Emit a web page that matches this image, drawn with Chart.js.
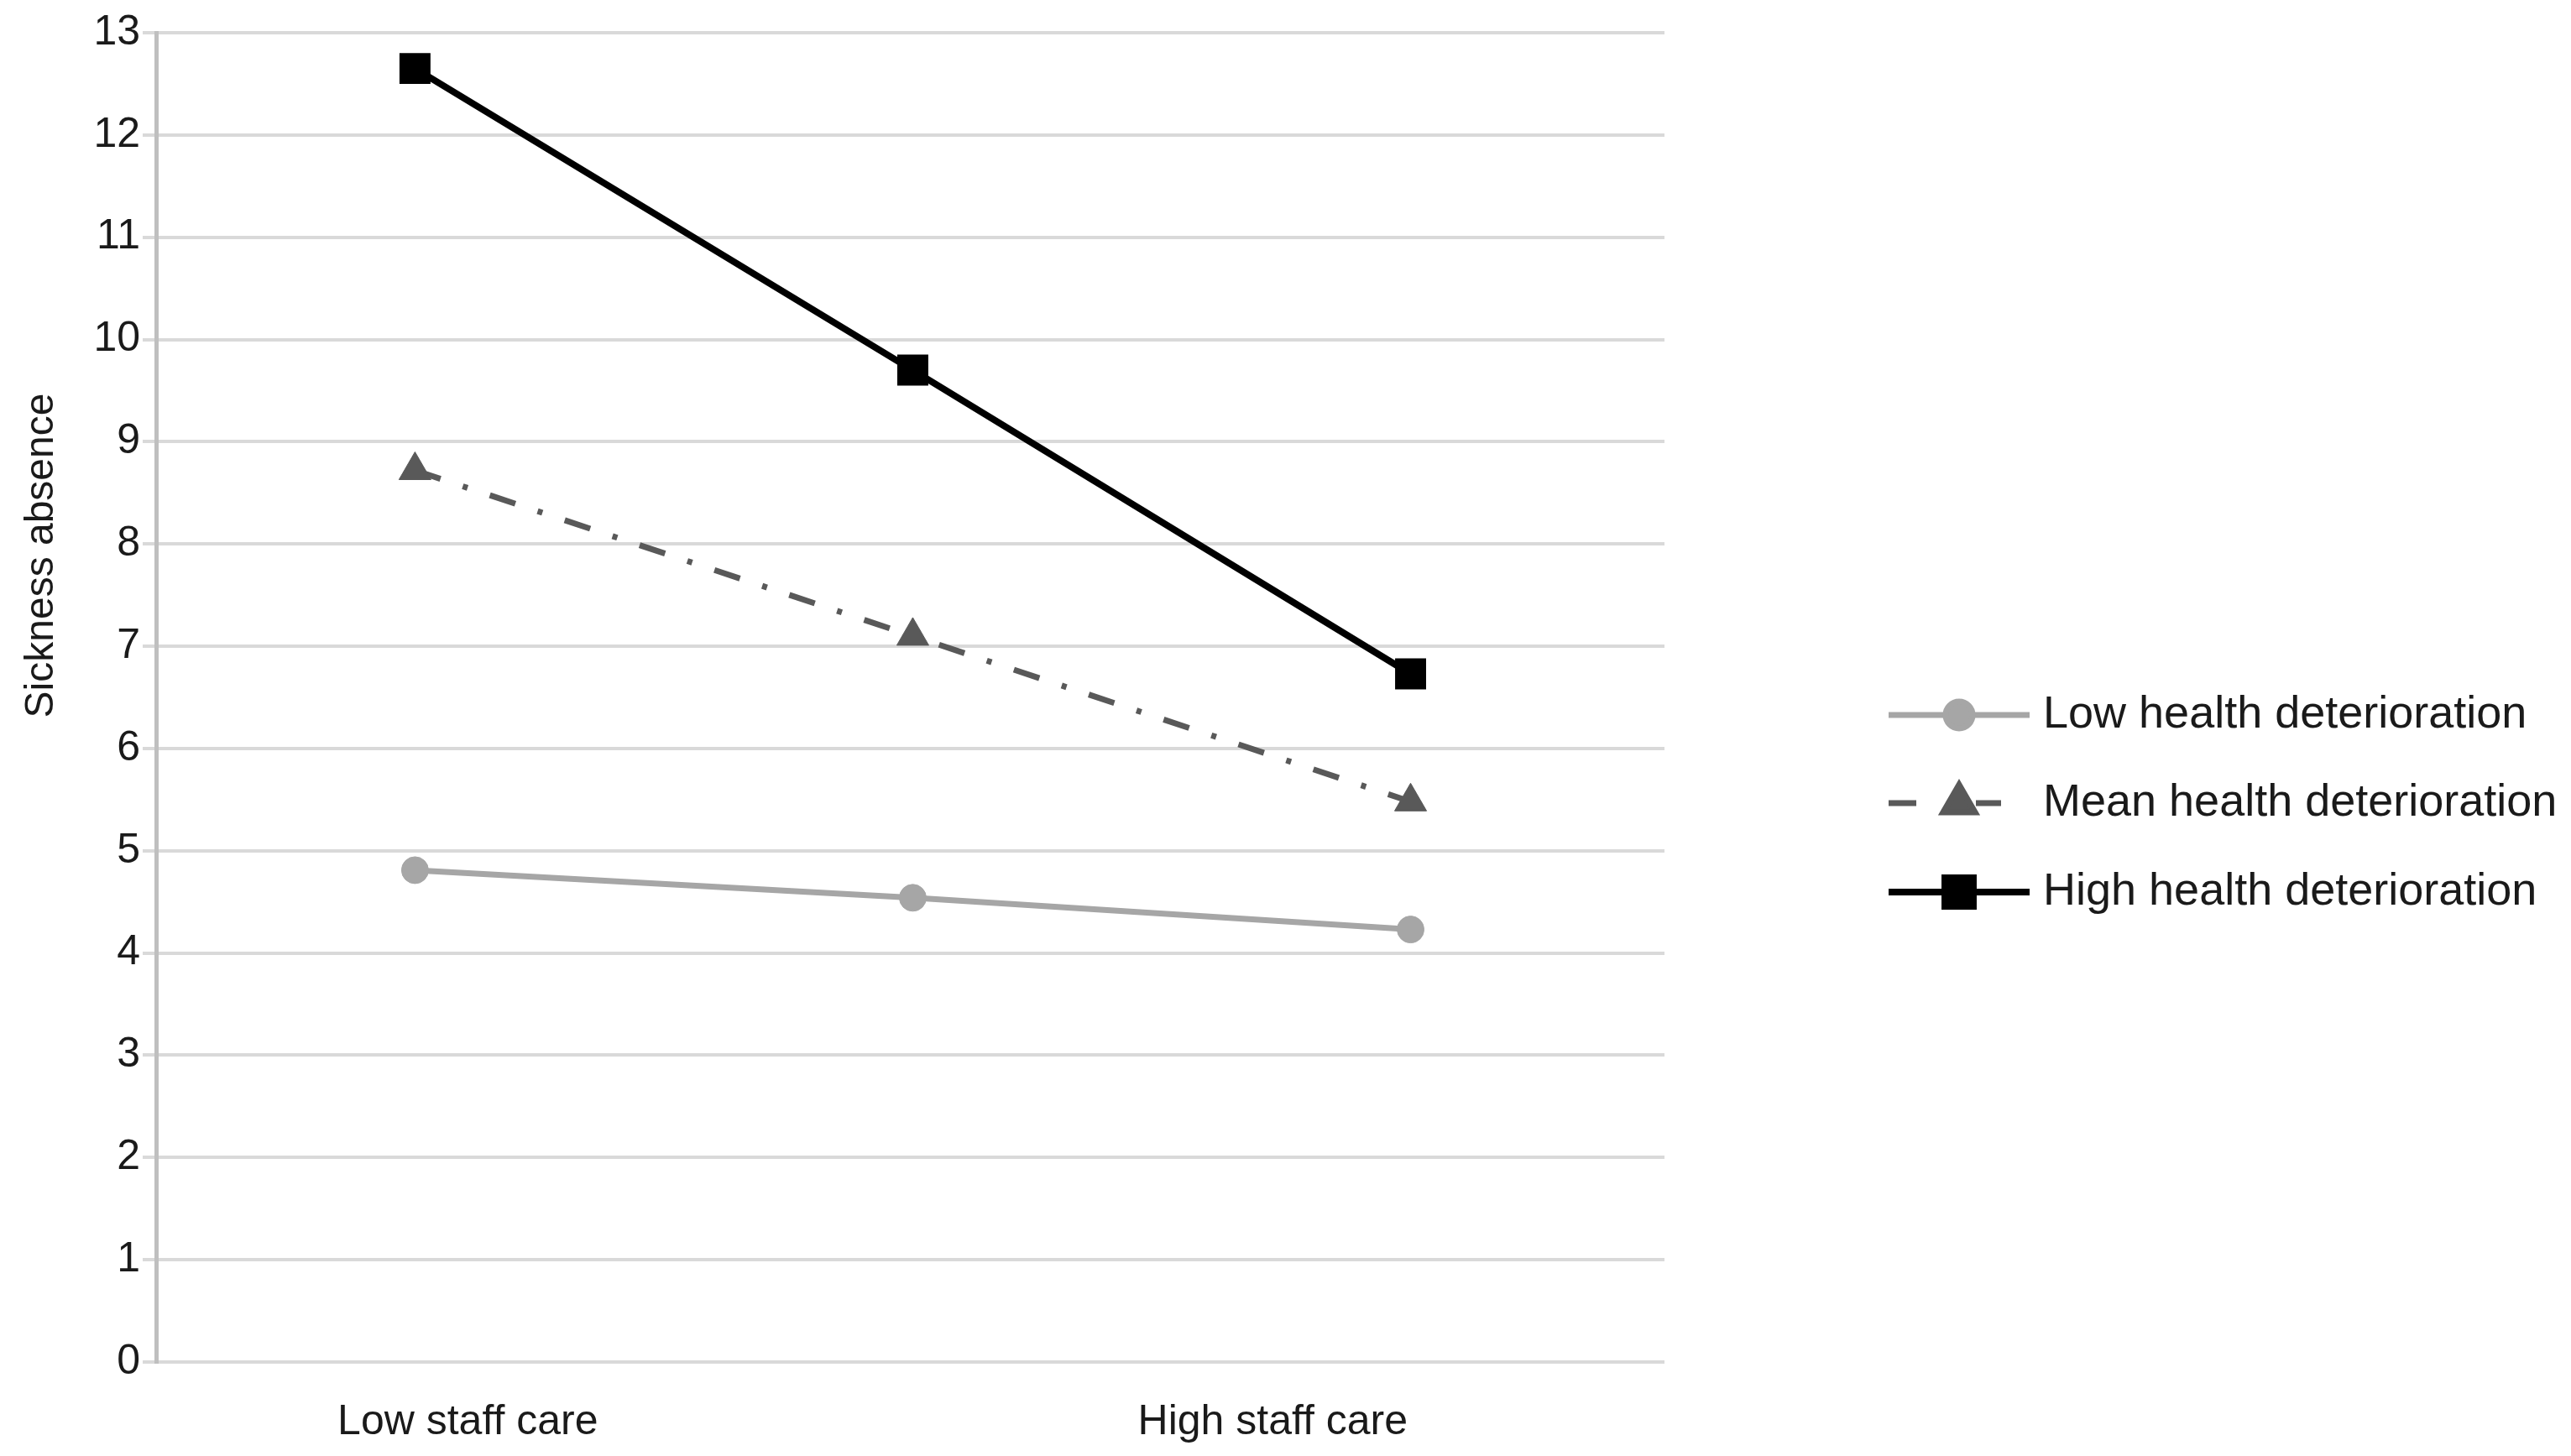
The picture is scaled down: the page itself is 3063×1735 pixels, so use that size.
<!DOCTYPE html>
<html>
<head>
<meta charset="utf-8">
<script src="https://cdn.jsdelivr.net/npm/chart.js@4.4.1/dist/chart.umd.min.js"></script>
<style>
  html, body { margin: 0; padding: 0; background: #fff; }
  #wrap { width: 3063px; height: 1735px; }
</style>
</head>
<body>
<div id="wrap"><canvas id="chart"></canvas></div>
<script>
// Staff care levels on x, sickness absence on y
const staffCare = [1, 2, 3];
const xLabelAt = [1.106, 2.723];
const xLabels = ['Low staff care', 'High staff care'];
const seriesNames = ['Low health deterioration', 'Mean health deterioration', 'High health deterioration'];
const lowHealth = [4.81, 4.54, 4.23];
const meanHealth = [8.72, 7.10, 5.48];
const highHealth = [12.65, 9.70, 6.73];
const yTickValues = [0, 1, 2, 3, 4, 5, 6, 7, 8, 9, 10, 11, 12, 13];
const yTitle = 'Sickness absence';

const FONT = "'Liberation Sans', Arial, sans-serif";
const TEXT = '#1a1a1a';

function pts(values) {
    return values.map((v, i) => ({ x: staffCare[i], y: v }));
}

// Legend drawn on the right with a line sample and marker per series
const sideLegend = {
    id: 'sideLegend',
    afterDraw(chart) {
        const ctx = chart.ctx;
        const x0 = 2250, lineLen = 168, textX = 2434;
        const rows = [852, 957, 1063];
        chart.data.datasets.forEach((ds, i) => {
            const y = rows[i];
            ctx.save();
            ctx.strokeStyle = ds.borderColor;
            ctx.lineWidth = ds.borderWidth;
            // the dashed series shows as "- ▲ -" in the legend sample
            ctx.setLineDash(ds.borderDash ? [33, 71, 30, 100] : []);
            ctx.beginPath();
            ctx.moveTo(x0, y);
            ctx.lineTo(x0 + lineLen, y);
            ctx.stroke();
            ctx.setLineDash([]);
            ctx.fillStyle = ds.pointBackgroundColor;
            ctx.strokeStyle = ds.pointBorderColor;
            Chart.helpers.drawPoint(ctx, {
                pointStyle: ds.pointStyle,
                radius: ds.pointRadius,
                borderWidth: ds.pointBorderWidth,
                rotation: 0
            }, x0 + lineLen / 2, y);
            ctx.fillStyle = TEXT;
            ctx.font = '54px ' + FONT;
            ctx.textBaseline = 'middle';
            ctx.textAlign = 'left';
            ctx.fillText(ds.label, textX, y);
            ctx.restore();
        });
    }
};

// Y axis title, placed as in the original figure
const yTitlePlugin = {
    id: 'yTitlePlugin',
    afterDraw(chart) {
        const ctx = chart.ctx;
        ctx.save();
        ctx.translate(50, 662);
        ctx.rotate(-Math.PI / 2);
        ctx.fillStyle = TEXT;
        ctx.font = '48px ' + FONT;
        ctx.textAlign = 'center';
        ctx.textBaseline = 'middle';
        ctx.fillText(yTitle, 0, 0);
        ctx.restore();
    }
};

new Chart(document.getElementById('chart'), {
    type: 'line',
    data: {
        datasets: [{
            label: seriesNames[0],
            data: pts(lowHealth),
            borderColor: '#a6a6a6',
            borderWidth: 7,
            pointStyle: 'circle',
            pointRadius: 16,
            pointBackgroundColor: '#a6a6a6',
            pointBorderColor: '#a6a6a6',
            pointBorderWidth: 1
        }, {
            label: seriesNames[1],
            data: pts(meanHealth),
            borderColor: '#595959',
            borderWidth: 7,
            borderDash: [32, 28, 6, 28],
            pointStyle: 'triangle',
            pointRadius: 22,
            pointBackgroundColor: '#595959',
            pointBorderColor: '#595959',
            pointBorderWidth: 1
        }, {
            label: seriesNames[2],
            data: pts(highHealth),
            borderColor: '#000000',
            borderWidth: 8,
            pointStyle: 'rect',
            pointRadius: 24,
            pointBackgroundColor: '#000000',
            pointBorderColor: '#000000',
            pointBorderWidth: 3
        }]
    },
    options: {
        responsive: true,
        maintainAspectRatio: false,
        animation: false,
        layout: { padding: { top: 39, right: 1080, bottom: 0, left: 0 } },
        plugins: {
            legend: { display: false },
            tooltip: { enabled: false }
        },
        scales: {
            x: {
                type: 'linear',
                min: 0.48,
                max: 3.51,
                afterBuildTicks: (scale) => {
                    scale.ticks = xLabelAt.map(v => ({ value: v }));
                },
                afterFit: (scale) => { scale.height = 112; },
                ticks: {
                    callback: (value, index) => xLabels[index],
                    font: { family: FONT, size: 50 },
                    color: TEXT,
                    padding: 42,
                    maxRotation: 0,
                    autoSkip: false
                },
                grid: { display: false, drawTicks: false },
                border: { display: false }
            },
            y: {
                min: 0,
                max: 13,
                afterBuildTicks: (scale) => {
                    scale.ticks = yTickValues.map(v => ({ value: v }));
                },
                afterFit: (scale) => { scale.width = 186; },
                ticks: {
                    font: { family: FONT, size: 50 },
                    color: TEXT,
                    padding: 3
                },
                grid: {
                    color: '#d9d9d9',
                    lineWidth: 4,
                    tickLength: 16,
                    drawTicks: true
                },
                border: { color: '#bfbfbf', width: 5 }
            }
        }
    },
    plugins: [sideLegend, yTitlePlugin]
});
</script>
</body>
</html>
